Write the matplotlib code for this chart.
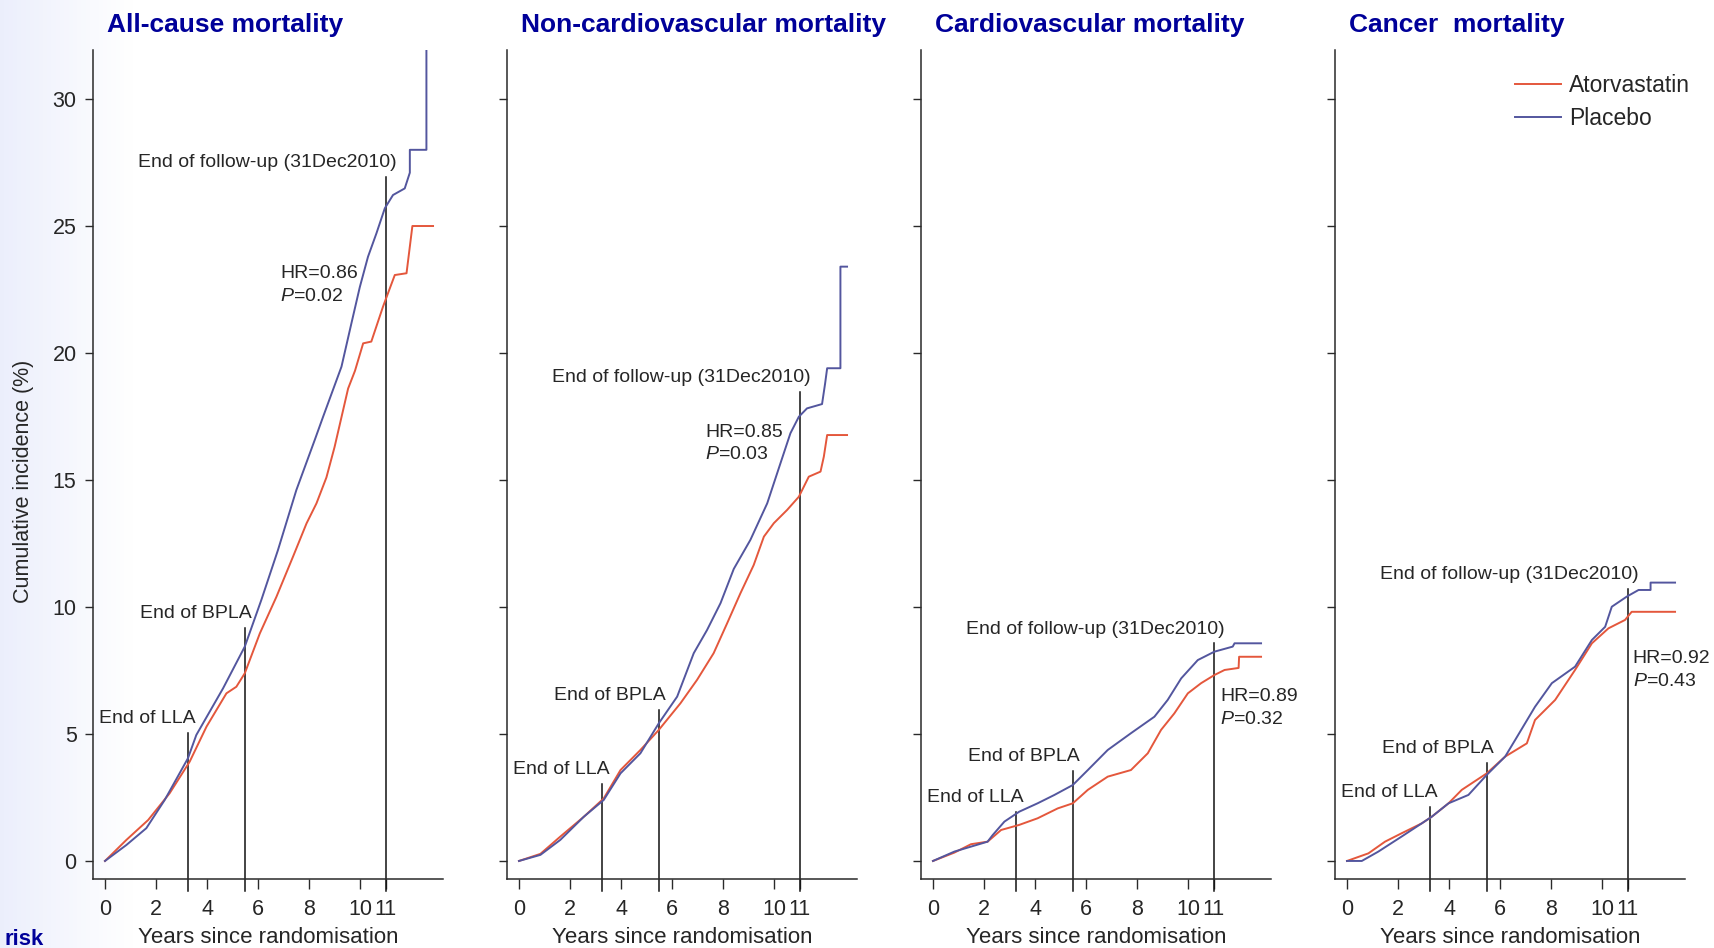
import numpy as np
import matplotlib
matplotlib.use("Agg")
import matplotlib.pyplot as plt
from matplotlib.lines import Line2D

plt.rcParams['font.family'] = ['Liberation Sans', 'DejaVu Sans']
plt.rcParams['mathtext.fontset'] = 'custom'
plt.rcParams['mathtext.rm'] = 'Liberation Sans'
plt.rcParams['mathtext.it'] = 'Liberation Sans:italic'

# --- cumulative incidence (%) by years since randomisation ---
titles = ["All-cause mortality", "Non-cardiovascular mortality",
          "Cardiovascular mortality", "Cancer  mortality"]

ator_t = [
    [0, 0.84, 1.69, 2.53, 3.32, 3.98, 4.76, 5.15, 5.48, 6.07, 6.72, 7.37, 7.9, 8.29, 8.68,
     9.0, 9.53, 9.8, 10.12, 10.44, 10.9, 11.36, 11.82, 11.95, 12.05, 12.86],
    [0, 0.84, 1.62, 2.54, 3.32, 3.98, 4.76, 5.48, 6.33, 6.98, 7.63, 8.16, 8.68, 9.2, 9.6,
     9.99, 10.51, 10.97, 11.36, 11.82, 11.95, 12.08, 12.86],
    [0, 0.84, 1.49, 2.14, 2.67, 3.38, 4.1, 4.89, 5.48, 6.07, 6.85, 7.76, 8.42, 8.94, 9.46,
     9.99, 10.51, 11.03, 11.43, 11.98, 12.0, 12.86],
    [0, 0.84, 1.49, 2.14, 2.93, 3.32, 3.98, 4.5, 5.48, 6.2, 7.05, 7.37, 8.16, 8.94, 9.6,
     10.25, 10.9, 11.16, 12.86],
]
ator_v = [
    [0, 0.83, 1.61, 2.66, 3.91, 5.29, 6.6, 6.86, 7.39, 8.96, 10.4, 11.98, 13.29, 14.08, 15.1,
     16.3, 18.6, 19.3, 20.38, 20.45, 21.83, 23.07, 23.14, 24.19, 25.0, 25.0],
    [0, 0.28, 0.96, 1.74, 2.46, 3.58, 4.37, 5.16, 6.21, 7.13, 8.18, 9.36, 10.54, 11.65, 12.77,
     13.3, 13.82, 14.34, 15.13, 15.33, 15.92, 16.77, 16.77],
    [0, 0.33, 0.66, 0.76, 1.22, 1.42, 1.68, 2.07, 2.27, 2.8, 3.32, 3.58, 4.24, 5.16, 5.81,
     6.6, 7.0, 7.32, 7.52, 7.6, 8.04, 8.04],
    [0, 0.3, 0.76, 1.09, 1.48, 1.74, 2.27, 2.8, 3.45, 4.11, 4.63, 5.55, 6.34, 7.52, 8.57,
     9.16, 9.49, 9.81, 9.81],
]

plac_t = [
    [0, 0.84, 1.62, 2.34, 3.25, 3.58, 4.63, 5.48, 6.13, 6.78, 7.5, 8.22, 8.55, 9.27, 9.66,
     9.99, 10.31, 10.64, 10.97, 11.29, 11.75, 11.95, 11.95, 12.6, 12.6, 12.86],
    [0, 0.84, 1.62, 2.54, 3.32, 3.98, 4.76, 5.48, 6.2, 6.85, 7.37, 7.9, 8.42, 9.07, 9.73,
     10.25, 10.64, 10.97, 11.29, 11.88, 12.0, 12.08, 12.6, 12.6, 12.86],
    [0, 0.84, 2.14, 2.34, 2.8, 3.38, 4.1, 4.76, 5.48, 6.07, 6.85, 7.76, 8.68, 9.2, 9.73,
     10.38, 11.03, 11.75, 11.82, 12.86],
    [0, 0.58, 1.23, 2.14, 2.93, 3.32, 3.98, 4.76, 5.48, 6.2, 6.59, 7.37, 8.03, 8.94, 9.6,
     10.12, 10.38, 10.97, 11.43, 11.9, 11.9, 12.86],
]
plac_v = [
    [0, 0.63, 1.29, 2.4, 4.04, 4.96, 6.8, 8.44, 10.28, 12.24, 14.6, 16.57, 17.49, 19.46, 21.17,
     22.6, 23.79, 24.71, 25.7, 26.22, 26.48, 27.1, 28.0, 28.0, 32.0, 32.0],
    [0, 0.24, 0.83, 1.74, 2.4, 3.45, 4.24, 5.42, 6.47, 8.18, 9.09, 10.15, 11.5, 12.64, 14.08,
     15.66, 16.84, 17.49, 17.82, 17.99, 18.8, 19.4, 19.4, 23.4, 23.4],
    [0, 0.37, 0.76, 1.02, 1.55, 1.94, 2.27, 2.6, 2.99, 3.58, 4.37, 5.03, 5.68, 6.34, 7.19,
     7.91, 8.24, 8.44, 8.57, 8.57],
    [0, 0, 0.37, 0.96, 1.48, 1.74, 2.27, 2.6, 3.39, 4.11, 4.76, 6.07, 7.0, 7.65, 8.7,
     9.22, 10.01, 10.41, 10.67, 10.67, 10.96, 10.96],
]

# study milestones (years) and heights of their marker lines (%)
milestone_t = [3.25, 5.5, 11.0]
milestone_names = ["End of LLA", "End of BPLA", "End of follow-up (31Dec2010)"]
milestone_top = [
    [5.04, 9.17, 26.93],
    [3.03, 5.94, 18.48],
    [1.94, 3.56, 8.57],
    [2.14, 3.87, 10.7],
]

hr_text = ["HR=0.86\n$P$=0.02", "HR=0.85\n$P$=0.03", "HR=0.89\n$P$=0.32", "HR=0.92\n$P$=0.43"]
hr_pos = [(6.86, 23.45), (7.29, 17.22), (11.25, 6.8), (11.2, 8.3)]

xticks = [0, 2, 4, 6, 8, 10, 11]
yticks = [0, 5, 10, 15, 20, 25, 30]

red = '#e4573c'
blue = '#53569e'
txt = '#262626'
title_col = '#000099'

W, H = 1714, 948
fig = plt.figure(figsize=(W / 100, H / 100), dpi=100)

# pale slide background at the left edge
bg = fig.add_axes([0, 0, 1, 1], zorder=-10)
grad = np.clip(1 - np.linspace(0, W, 400) / 130.0, 0, 1)
c0 = np.array([0.925, 0.937, 0.988])
img = 1 - (1 - c0)[None, None, :] * grad[None, :, None]
bg.imshow(np.repeat(img, 2, axis=0), aspect='auto', extent=[0, 1, 0, 1])
bg.axis('off')

px_y = 25.4   # pixels per percent
lab_dx = [8, 6, 11]

for p in range(4):
    left = 93 + 414 * p
    ax = fig.add_axes([left / W, (H - 879) / H, 350 / W, 829 / H])
    ax.set_facecolor('none')
    ax.set_xlim(-0.47, 13.25)
    ax.set_ylim(-0.71, 31.93)

    ax.plot(ator_t[p], ator_v[p], color=red, lw=1.4, zorder=3)
    ax.plot(plac_t[p], plac_v[p], color=blue, lw=1.4, zorder=3)

    ylo = -0.71 - 12 / px_y
    for k, (mt, top) in enumerate(zip(milestone_t, milestone_top[p])):
        ax.plot([mt, mt], [ylo, top], color='#111111', lw=1.1, clip_on=False, zorder=2)
        ax.annotate(milestone_names[k], (mt, top), xytext=(lab_dx[k] * 0.72, 7),
                    textcoords='offset points', ha='right', va='baseline',
                    fontsize=14, color=txt)

    ax.text(hr_pos[p][0], hr_pos[p][1], hr_text[p], ha='left', va='top',
            fontsize=14, color=txt, linespacing=1.45)

    for s in ['top', 'right']:
        ax.spines[s].set_visible(False)
    for s in ['left', 'bottom']:
        ax.spines[s].set_color('#2a2a2a')
        ax.spines[s].set_linewidth(1.1)

    ax.set_xticks(xticks)
    ax.set_yticks(yticks)
    ax.tick_params(axis='x', length=7.5, width=1.0, color='#2a2a2a', pad=7,
                   labelsize=15.5, labelcolor=txt)
    ax.tick_params(axis='y', length=5.8, width=1.0, color='#2a2a2a', pad=6,
                   labelsize=15.5, labelcolor=txt)
    if p > 0:
        ax.set_yticklabels([])
    ax.set_xlabel("Years since randomisation", fontsize=16, color=txt, labelpad=5)

    fig.text((left + 14) / W, 1 - 32 / H, titles[p], ha='left', va='baseline',
             fontsize=19, fontweight='bold', color=title_col)

    if p == 3:
        handles = [Line2D([], [], color=red, lw=1.4), Line2D([], [], color=blue, lw=1.4)]
        ax.legend(handles, ["Atorvastatin", "Placebo"], loc='upper left',
                  bbox_to_anchor=(1515 / W, 1 - 74 / H), bbox_transform=fig.transFigure,
                  frameon=False, fontsize=16.5, handlelength=2.0, handletextpad=0.35,
                  borderpad=0, borderaxespad=0, labelspacing=0.45, labelcolor=txt)

fig.text(24 / W, 1 - 481 / H, "Cumulative incidence (%)", rotation=90,
         ha='center', va='center', fontsize=15.5, color=txt)
fig.text(4 / W, 3 / H, "risk", ha='left', va='baseline', fontsize=16,
         fontweight='bold', color=title_col)

fig.savefig("out.png", dpi=100)
